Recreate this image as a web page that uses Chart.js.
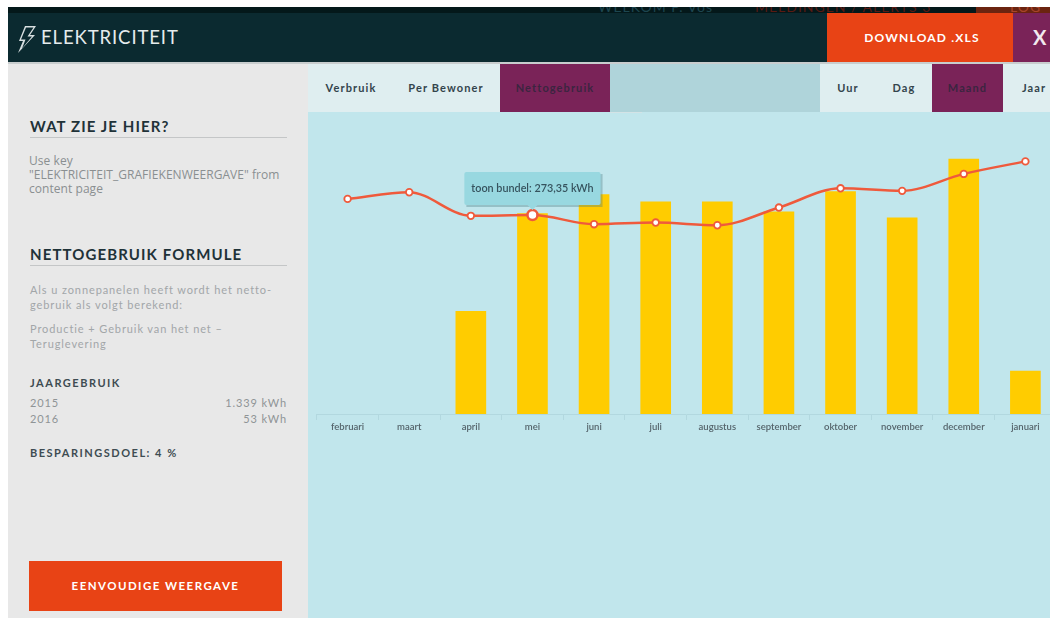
<!DOCTYPE html>
<html lang="nl">
<head>
  <meta charset="UTF-8">
  <title>Elektriciteit</title>
  <script src="https://cdn.jsdelivr.net/npm/chart.js"></script>
  <style>
    html, body { margin: 0; width: 1050px; height: 618px; overflow: hidden; background: #fff; }
    body { position: relative; font-family: Lato, sans-serif; }
    .box { position: absolute; }
    .txt { position: absolute; white-space: nowrap; }
    .tab { position: absolute; top: 64px; height: 48px; line-height: 48px; font-size: 11px; font-weight: 700; letter-spacing: 1.1px; color: #33444c; text-align: center; }
    .head { position: absolute; left: 30px; width: 257px; color: #1f3238; font-size: 15px; font-weight: 700; letter-spacing: 1.1px; border-bottom: 1px solid #c4c6c7; height: 19px; line-height: 17px; }
    .grey { color: #8f9496; font-size: 11px; letter-spacing: .9px; }
    .sub { color: #3e4c52; font-size: 11px; font-weight: 700; letter-spacing: 1.5px; }
    #chartWrap { position: absolute; left: 310px; top: 116px; width: 753px; height: 328px; }
  </style>
</head>
<body>
  <!-- balk boven -->
  <div class="box" style="left:8px;top:7px;width:1042px;height:6px;background:#04181a;overflow:hidden">
    <div class="txt" style="left:590px;top:-9px;font-size:14px;letter-spacing:1px;color:#1d4650">WELKOM P. Vos</div>
    <div class="txt" style="left:747px;top:-9px;font-size:14px;letter-spacing:1px;color:#5a1a12">MELDINGEN / ALERTS 3</div>
    <div class="box" style="left:968px;top:0;width:74px;height:6px;background:#6b2410"></div>
    <div class="txt" style="left:1002px;top:-9px;font-size:14px;letter-spacing:1px;color:#a8452a">LOG</div>
  </div>

  <!-- header -->
  <div class="box" style="left:8px;top:13px;width:1042px;height:49px;background:#0b2a30"></div>
  <svg class="box" style="left:16px;top:25px" width="22" height="29" viewBox="0 0 22 29">
    <path d="M9 1 L20 1 L14 10 L19 10 L2 28 L7 16 L3 16 Z M10 2.5 L5 14.5 L9.5 14.5 L6 23.5 L16 11.5 L11.5 11.5 L17.5 2.5 Z" fill="#d8dfe0" fill-rule="evenodd"/>
  </svg>
  <div class="txt" style="left:41px;top:25px;font-size:18.5px;letter-spacing:.9px;color:#e6eced;line-height:24px">ELEKTRICITEIT</div>
  <div class="box" style="left:827px;top:13px;width:186px;height:49px;background:#e84315"></div>
  <div class="txt" style="left:829px;top:13px;width:186px;height:49px;line-height:49px;text-align:center;font-size:12px;font-weight:700;letter-spacing:1.2px;color:#fff">DOWNLOAD .XLS</div>
  <div class="box" style="left:1013px;top:13px;width:37px;height:49px;background:#7a2358"></div>
  <div class="txt" style="left:1033px;top:13px;line-height:49px;font-size:20px;font-weight:700;color:#f2e8ee">X</div>
  <div class="box" style="left:8px;top:62px;width:1042px;height:2px;background:#c8cdce"></div>

  <!-- zijbalk -->
  <div class="box" style="left:8px;top:64px;width:300px;height:554px;background:#e8e8e8"></div>
  <div class="head" style="top:118px">WAT ZIE JE HIER?</div>
  <div class="txt" style="left:29px;top:154px;font-family:'Open Sans',sans-serif;font-size:12px;line-height:14px;letter-spacing:.05px;color:#8a8f91">Use key<br>"ELEKTRICITEIT_GRAFIEKENWEERGAVE" from<br>content page</div>
  <div class="head" style="top:246px">NETTOGEBRUIK FORMULE</div>
  <div class="txt grey" style="left:30px;top:282px;line-height:15px;color:#a2a6a8">Als u zonnepanelen heeft wordt het netto-<br>gebruik als volgt berekend:</div>
  <div class="txt grey" style="left:30px;top:321px;line-height:15px;color:#a2a6a8">Productie + Gebruik van het net &#8211;<br>Teruglevering</div>
  <div class="txt sub" style="left:30px;top:376px">JAARGEBRUIK</div>
  <div class="txt grey" style="left:30px;top:396px">2015</div>
  <div class="txt grey" style="right:763px;top:396px">1.339 kWh</div>
  <div class="txt grey" style="left:30px;top:412px">2016</div>
  <div class="txt grey" style="right:763px;top:412px">53 kWh</div>
  <div class="txt sub" style="left:30px;top:446px">BESPARINGSDOEL: 4 %</div>
  <div class="txt" style="left:29px;top:561px;width:253px;height:50px;line-height:50px;background:#e84315;text-align:center;color:#fff;font-size:11.5px;font-weight:700;letter-spacing:1.45px">EENVOUDIGE WEERGAVE</div>

  <!-- grafiekvlak en tabs -->
  <div class="box" style="left:308px;top:112px;width:742px;height:506px;background:#c1e6ec"></div>
  <div class="box" style="left:308px;top:64px;width:192px;height:48px;background:#dfeef0"></div>
  <div class="box" style="left:610px;top:64px;width:210px;height:48px;background:#afd4da"></div>
  <div class="box" style="left:610px;top:112px;width:32px;height:1px;background:#d3e3e6"></div>
  <div class="box" style="left:820px;top:64px;width:112px;height:48px;background:#dfeef0"></div>
  <div class="box" style="left:1003px;top:64px;width:47px;height:48px;background:#dfeef0"></div>
  <div class="tab" style="left:308px;width:86px">Verbruik</div>
  <div class="tab" style="left:394px;width:104px">Per Bewoner</div>
  <div class="tab" style="left:500px;width:110px;background:#7a2358;color:#3b2540">Nettogebruik</div>
  <div class="tab" style="left:820px;width:56px">Uur</div>
  <div class="tab" style="left:876px;width:56px">Dag</div>
  <div class="tab" style="left:932px;width:71px;background:#7a2358;color:#3b2540">Maand</div>
  <div class="tab" style="left:1008px;width:52px">Jaar</div>

  <div id="chartWrap"><canvas id="chart" width="753" height="328"></canvas></div>

  <script>
    const maanden = ['februari', 'maart', 'april', 'mei', 'juni', 'juli', 'augustus', 'september', 'oktober', 'november', 'december', 'januari'];
    const gebruik = [null, null, 141, 275.4, 301.4, 291.4, 291.4, 277.7, 305.5, 269.5, 350.3, 58.9];
    const bundel = [295.5, 304.6, 272.2, 273.35, 260.7, 263, 259.3, 283.6, 310, 306.5, 329.8, 347];
    const actieveMaand = 3;

    // schaduw rechtsonder de tooltip
    const tooltipSchaduw = {
      id: 'tooltipSchaduw',
      beforeTooltipDraw(chart, args) {
        const t = args.tooltip;
        const ctx = chart.ctx;
        ctx.save();
        ctx.fillStyle = 'rgba(70,120,130,0.35)';
        ctx.fillRect(t.x + 2, t.y + 2, t.width, t.height);
        ctx.restore();
      }
    };

    const chart = new Chart(document.getElementById('chart'), {
      type: 'bar',
      plugins: [tooltipSchaduw],
      data: {
        labels: maanden,
        datasets: [
          {
            type: 'line',
            label: 'toon bundel',
            data: bundel,
            order: 0,
            borderColor: '#ef5a3c',
            borderWidth: 2.5,
            cubicInterpolationMode: 'monotone',
            pointRadius: 3.3,
            pointBorderWidth: 1.8,
            pointBackgroundColor: '#fff',
            pointBorderColor: '#ef5a3c',
            pointHoverRadius: 5,
            pointHoverBorderWidth: 2.5,
            pointHoverBackgroundColor: '#fff',
            pointHoverBorderColor: '#ef5a3c'
          },
          {
            label: 'gebruik',
            data: gebruik,
            order: 1,
            backgroundColor: '#ffcc00',
            barThickness: 30
          }
        ]
      },
      options: {
        responsive: false,
        animation: false,
        layout: { padding: 0 },
        scales: {
          y: { display: false, min: 0, max: 400 },
          x: {
            afterFit: function(axis) { axis.height = 30; },
            border: { color: '#b2d8df' },
            grid: { drawOnChartArea: false, color: '#b2d8df', tickLength: 6, offset: true },
            ticks: {
              color: '#55646b',
              padding: 1,
              maxRotation: 0,
              autoSkip: false,
              font: { family: 'Lato', size: 9.5, weight: '600' }
            }
          }
        },
        plugins: {
          legend: { display: false },
          tooltip: {
            yAlign: 'bottom',
            xAlign: 'center',
            backgroundColor: '#98d8e0',
            bodyColor: '#36535e',
            bodyFont: { family: 'Lato', size: 10.8, weight: '600' },
            padding: { x: 7, y: 10 },
            cornerRadius: 2,
            caretSize: 5,
            caretPadding: 5,
            displayColors: false,
            callbacks: {
              title: function() { return ''; },
              label: function(item) {
                return item.dataset.label + ': ' + item.parsed.y.toFixed(2).replace('.', ',') + ' kWh';
              }
            }
          }
        }
      }
    });

    // tooltip van mei staat open zoals op de foto
    const actief = [{ datasetIndex: 0, index: actieveMaand }];
    chart.tooltip.setActiveElements(actief, { x: 0, y: 0 });
    chart.setActiveElements(actief);
    chart.render();
  </script>
</body>
</html>
